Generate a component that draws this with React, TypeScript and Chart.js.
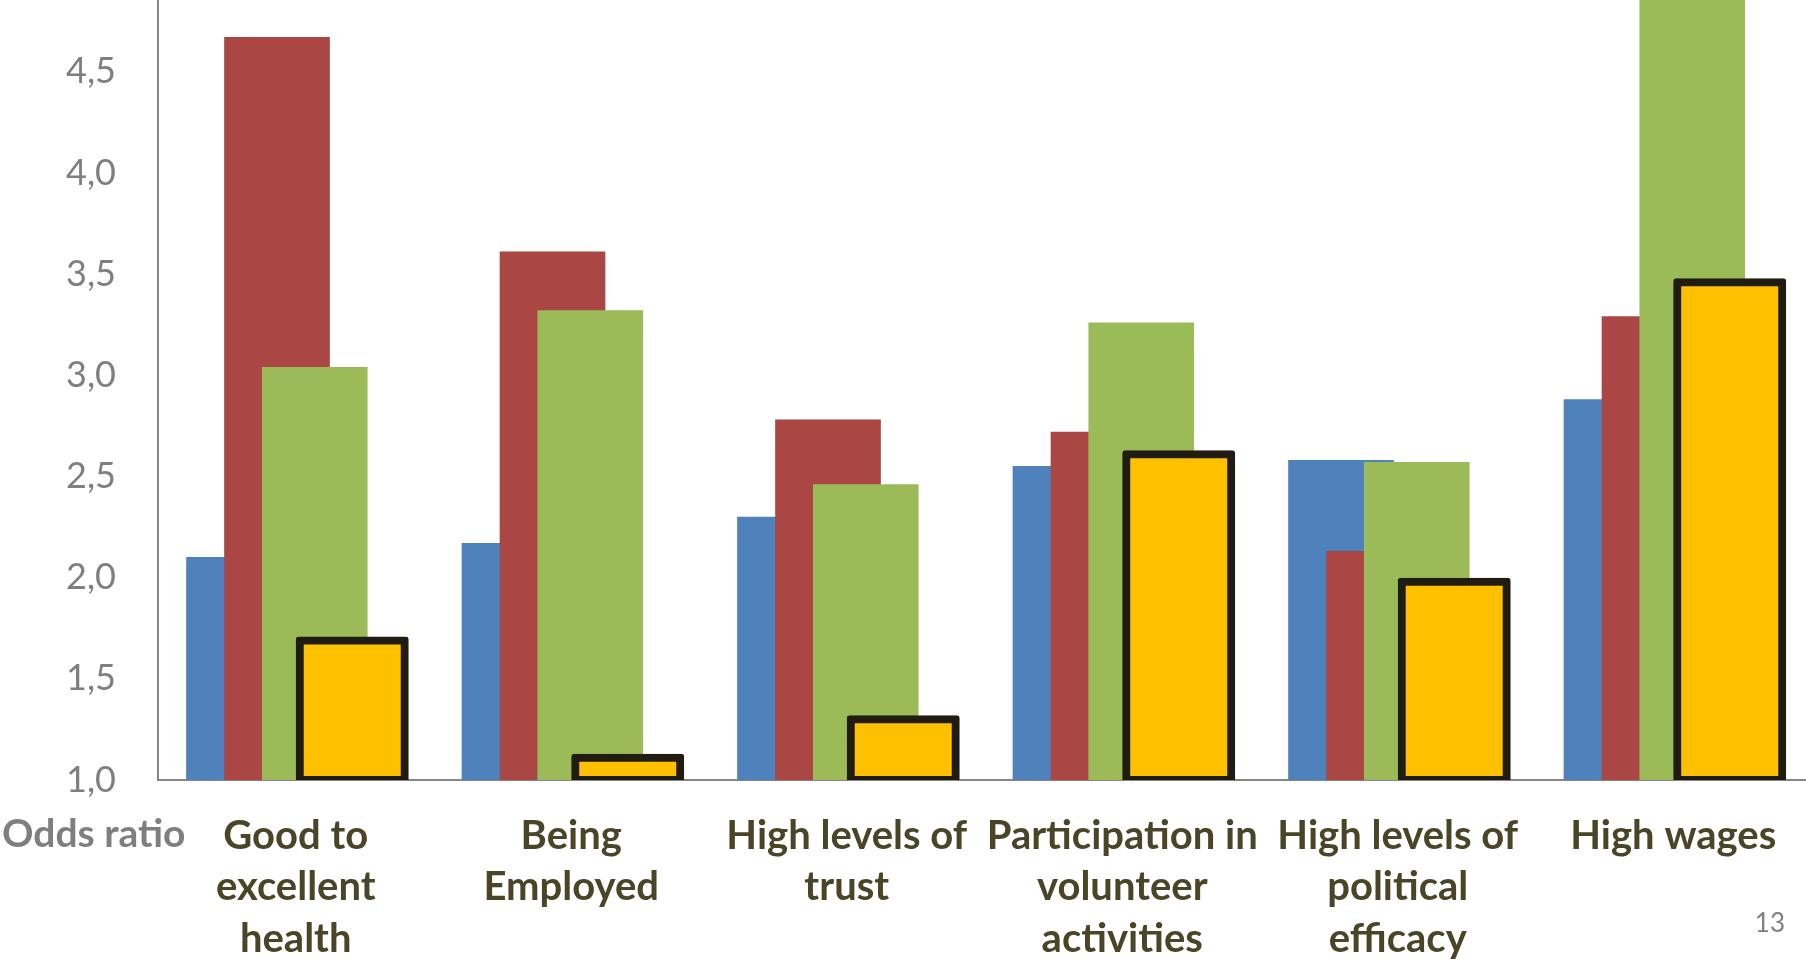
import React, { useEffect, useRef } from 'react';
import { Chart, registerables } from 'chart.js';

Chart.register(...registerables);

// Outcome categories (multi-line axis labels)
const categories: string[][] = [
  ['Good to', 'excellent', 'health'],
  ['Being', 'Employed'],
  ['High levels of', 'trust'],
  ['Participation in', 'volunteer', 'activities'],
  ['High levels of', 'political', 'efficacy'],
  ['High wages'],
];

// Odds ratios per series, one value per category
const series1Values = [2.1, 2.17, 2.3, 2.55, 2.58, 2.88];
const series2Values = [4.67, 3.61, 2.78, 2.72, 2.13, 3.29];
const series3Values = [3.04, 3.32, 2.46, 3.26, 2.57, 5.0];
const series4Values = [1.69, 1.11, 1.3, 2.61, 1.98, 3.46];

const yTickValues = [1.0, 1.5, 2.0, 2.5, 3.0, 3.5, 4.0, 4.5];

const axisCaption = 'Odds ratio';
const pageNumber = '13';

// Horizontal shift of each series inside its category (category units)
const seriesShift = [-0.206, -0.068, 0.069, 0.205];

const Y_MIN = 1.0;
const Y_MAX = 4.855;
const FONT = 'Lato, "Open Sans", sans-serif';

const sideTexts = {
  id: 'sideTexts',
  afterDraw(chart: any) {
    const ctx = chart.ctx as CanvasRenderingContext2D;
    ctx.save();
    ctx.fillStyle = '#7f7f7f';
    ctx.textBaseline = 'alphabetic';
    ctx.textAlign = 'left';
    ctx.font = `bold 39px ${FONT}`;
    ctx.fillText(axisCaption, 2, 847);
    ctx.textAlign = 'right';
    ctx.font = `26px ${FONT}`;
    ctx.fillText(pageNumber, 1785, 932);
    ctx.restore();
  },
};

export default function App() {
  const canvasRef = useRef<HTMLCanvasElement | null>(null);

  useEffect(() => {
    const canvas = canvasRef.current;
    if (!canvas) return;

    const toPoints = (vals: number[]) => vals.map((v, i) => ({ x: i, y: v }));

    const seriesAxis = (k: number) => ({
      type: 'linear' as const,
      display: false,
      offset: false,
      min: -0.5 - seriesShift[k],
      max: 5.5 - seriesShift[k],
    });

    const common = {
      grouped: false,
      barThickness: 105,
      base: Y_MIN,
      borderWidth: 0,
    };

    const chart = new Chart(canvas, {
      type: 'bar',
      data: {
        datasets: [
          {
            ...common,
            label: 'Series 1',
            data: toPoints(series1Values),
            backgroundColor: '#4f81bd',
            xAxisID: 'x0',
            order: 4,
          },
          {
            ...common,
            label: 'Series 2',
            data: toPoints(series2Values),
            backgroundColor: '#aa4644',
            xAxisID: 'x1',
            order: 3,
          },
          {
            ...common,
            label: 'Series 3',
            data: toPoints(series3Values),
            backgroundColor: '#9bbb59',
            xAxisID: 'x2',
            order: 2,
          },
          {
            ...common,
            label: 'Series 4',
            data: toPoints(series4Values),
            backgroundColor: '#ffc000',
            borderColor: '#201c11',
            borderWidth: 8,
            borderSkipped: false,
            borderRadius: 3,
            inflateAmount: 4,
            xAxisID: 'x3',
            order: 1,
          },
        ] as any,
      },
      options: {
        responsive: false,
        animation: false,
        devicePixelRatio: 1,
        layout: { padding: 0 },
        plugins: {
          legend: { display: false },
          tooltip: { enabled: false },
        },
        scales: {
          x: {
            type: 'linear',
            position: 'bottom',
            offset: false,
            min: -0.5,
            max: 5.5,
            grid: { display: false, drawTicks: false },
            border: { display: true, color: '#868686', width: 2 },
            afterBuildTicks: (scale: any) => {
              scale.ticks = categories.map((_, i) => ({ value: i }));
            },
            afterFit: (scale: any) => {
              scale.height = 179;
              scale.paddingLeft = 0;
              scale.paddingRight = 0;
            },
            ticks: {
              autoSkip: false,
              maxRotation: 0,
              minRotation: 0,
              padding: 30,
              color: '#4b4527',
              font: { family: FONT, size: 40, weight: 'bold', lineHeight: 1.2875 },
              callback: (v: any) => categories[Math.round(Number(v))] ?? '',
            },
          },
          x0: seriesAxis(0),
          x1: seriesAxis(1),
          x2: seriesAxis(2),
          x3: seriesAxis(3),
          y: {
            type: 'linear',
            min: Y_MIN,
            max: Y_MAX,
            grid: { display: false, drawTicks: false },
            border: { display: true, color: '#868686', width: 2 },
            afterBuildTicks: (scale: any) => {
              scale.ticks = yTickValues.map((v) => ({ value: v }));
            },
            afterFit: (scale: any) => {
              scale.width = 158;
              scale.paddingTop = 0;
              scale.paddingBottom = 0;
            },
            ticks: {
              padding: 42,
              color: '#7f7f7f',
              font: { family: FONT, size: 36 },
              callback: (v: any) => Number(v).toFixed(1).replace('.', ','),
            },
          },
        } as any,
      },
      plugins: [sideTexts],
    });

    return () => chart.destroy();
  }, []);

  return (
    <div
      style={{
        position: 'fixed',
        left: 0,
        top: 0,
        width: 1806,
        height: 959,
        overflow: 'hidden',
        background: '#ffffff',
      }}
    >
      <canvas ref={canvasRef} width={1811} height={959} style={{ display: 'block' }} />
    </div>
  );
}
